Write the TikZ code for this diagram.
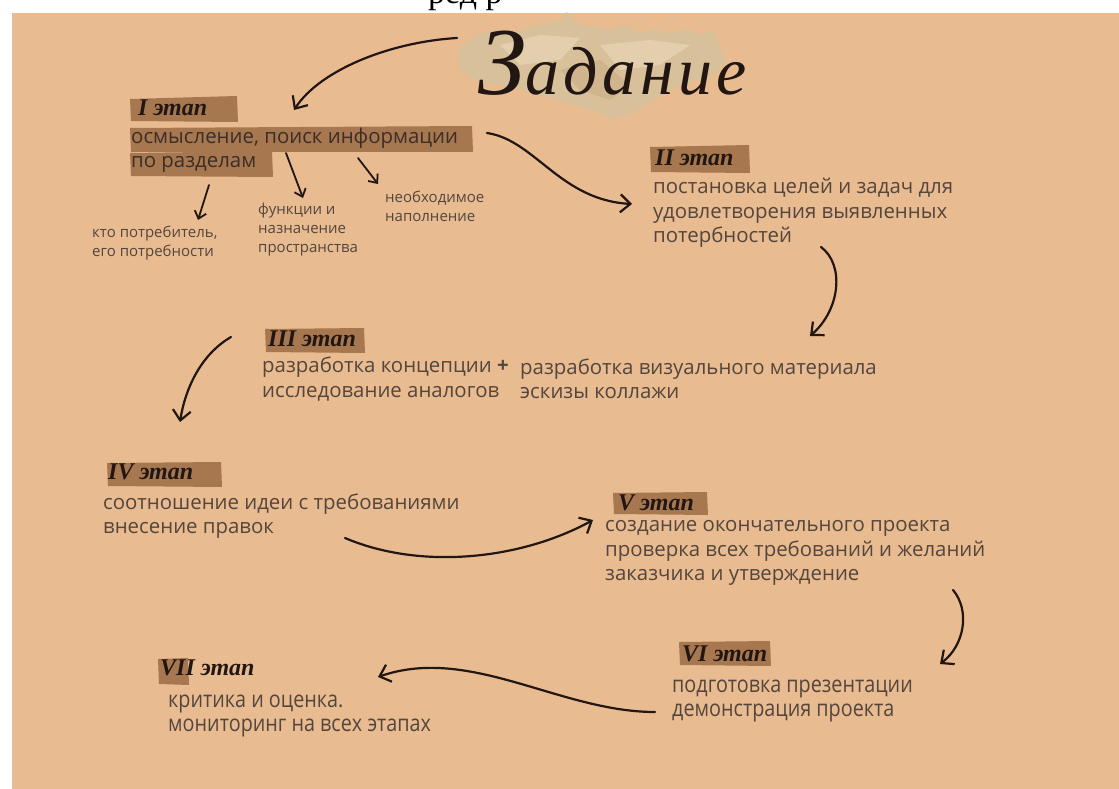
\documentclass[tikz,border=0pt]{standalone}
\usepackage{fontspec}
\setmainfont{Open Sans}
\newfontfamily\condfont[FakeStretch=0.86]{Open Sans}
\newfontfamily\handfont{Liberation Serif}
\usetikzlibrary{arrows.meta}
\definecolor{bg}{HTML}{E8BB91}
\definecolor{patch}{HTML}{A77750}
\definecolor{ink}{HTML}{211611}
\definecolor{txt}{HTML}{54463C}
\definecolor{ontxt}{HTML}{3A2E27}
\definecolor{paper}{HTML}{D8C09B}
\definecolor{paperlight}{HTML}{E3CFAD}
\definecolor{paperdark}{HTML}{C9AD86}
\tikzset{
  body/.style={anchor=west, align=left, inner sep=0pt, text=txt, font=\fontsize{20.4}{24.5}\selectfont},
  small/.style={anchor=west, align=left, inner sep=0pt, text=txt, font=\fontsize{15}{19}\selectfont},
  cond/.style={anchor=west, align=left, inner sep=0pt, text=txt, font=\condfont\fontsize{23}{24}\selectfont},
  stagelabel/.style={anchor=west, inner sep=0pt, text=ink, font=\handfont\bfseries\itshape\fontsize{24}{24}\selectfont},
  hl/.style={fill=patch},
  flow/.style={draw=ink, line width=2.2pt, line cap=round, -{Straight Barb[length=10pt,width=18pt]}},
  tick/.style={draw=ink, line width=1.8pt, line cap=round, -{Straight Barb[length=7pt,width=12pt]}},
}
\begin{document}
\begin{tikzpicture}[x=1pt,y=-1pt]
\useasboundingbox (0,0) rectangle (1119,789);
\fill[white] (0,0) rectangle (1119,789);
\fill[bg] (12,13) rectangle (1119,789);
% fragment of a text line above the picture, cut off as in the source
\begin{scope}
\clip (0,0) rectangle (1119,13);
\node[anchor=base west, inner sep=0pt, font=\handfont\fontsize{34}{34}\selectfont] (top) at (428,4) {ред р};
\end{scope}
% crumpled paper
\fill[paper] (460,48) -- (478,34) -- (495,31) -- (510,36) -- (525,28) -- (545,24) -- (560,21) -- (567,12) -- (575,23) -- (590,27) -- (610,29) -- (625,26) -- (640,32) -- (655,29) -- (670,33) -- (685,29) -- (700,34) -- (714,32) -- (720,45) -- (725,62) -- (716,74) -- (705,78) -- (690,82) -- (670,90) -- (650,102) -- (632,114) -- (612,118) -- (592,110) -- (570,104) -- (550,98) -- (530,92) -- (510,87) -- (490,84) -- (470,78) -- (458,66) -- cycle;
\fill[paperlight] (500,45) -- (540,35) -- (580,38) -- (560,60) -- (520,65) -- cycle;
\fill[paperlight] (600,45) -- (650,40) -- (690,45) -- (660,65) -- (620,70) -- cycle;
\fill[paperdark, opacity=0.6] (560,70) -- (600,60) -- (630,85) -- (610,100) -- (580,90) -- cycle;
% title
\node[anchor=base west, inner sep=0pt, text=ink, font=\handfont\itshape] (title) at (478,95) {{\fontsize{96}{96}\selectfont З}{\fontsize{68}{68}\selectfont\addfontfeatures{LetterSpace=6}адание}};
% highlight patches
\fill[hl] (130,99) -- (237,96) -- (238,122) -- (131,121) -- cycle;
\fill[hl] (130,128) -- (472,126) -- (473,152) -- (131,152) -- cycle;
\fill[hl] (130,153) -- (272,151) -- (273,177) -- (131,176) -- cycle;
\fill[hl] (650,147) -- (749,145) -- (750,173) -- (651,172) -- cycle;
\fill[hl] (265,329) -- (364,328) -- (365,353) -- (266,352) -- cycle;
\fill[hl] (107,463) -- (221,462) -- (222,487) -- (108,486) -- cycle;
\fill[hl] (613,493) -- (707,492) -- (708,515) -- (614,514) -- cycle;
\fill[hl] (679,642) -- (770,641) -- (771,666) -- (680,665) -- cycle;
\fill[hl] (158,659) -- (188,658) -- (189,685) -- (159,684) -- cycle;
% stage I
\node[stagelabel] (l1) at (138,108) {I этап};
\node[body, text=ontxt] (s1) at (131,150) {осмысление, поиск информации\\по разделам};
\node[small] (s1a) at (92,243) {кто потребитель,\\его потребности};
\node[small] (s1b) at (258,230) {функции и\\назначение\\пространства};
\node[small] (s1c) at (385,206) {необходимое\\наполнение};
% stage II
\node[stagelabel] (l2) at (655,158) {II этап};
\node[body] (s2) at (653,213) {постановка целей и задач для\\удовлетворения выявленных\\потербностей};
% stage III
\node[stagelabel] (l3) at (268,339) {III этап};
\node[body] (s3a) at (262,379) {разработка концепции {\bfseries +}\\исследование аналогов};
\node[body] (s3b) at (520,379) {разработка визуального материала\\эскизы коллажи};
% stage IV
\node[stagelabel] (l4) at (108,472) {IV этап};
\node[body] (s4) at (103,516) {соотношение идеи с требованиями\\внесение правок};
% stage V
\node[stagelabel] (l5) at (618,503) {V этап};
\node[body] (s5) at (605,553) {создание окончательного проекта\\проверка всех требований и желаний\\заказчика и утверждение};
% stage VI
\node[stagelabel] (l6) at (682,654) {VI этап};
\node[cond] (s6) at (672,701) {подготовка презентации\\демонстрация проекта};
% stage VII
\node[stagelabel] (l7) at (160,668) {VII этап};
\node[cond] (s7) at (168,716) {критика и оценка.\\мониторинг на всех этапах};
% connector coordinates
\coordinate (a0s) at (457,38);  \coordinate (a0e) at (294,110);
\coordinate (a1s) at (487,133); \coordinate (a1e) at (632,204);
\coordinate (a2s) at (821,247); \coordinate (a2e) at (810,336);
\coordinate (a3s) at (231,337); \coordinate (a3e) at (180,422);
\coordinate (a4s) at (345,538); \coordinate (a4e) at (593,520);
\coordinate (a5s) at (953,590); \coordinate (a5e) at (940,664);
\coordinate (a6s) at (655,712); \coordinate (a6e) at (378,677);
\coordinate (t1s) at (209,185); \coordinate (t1e) at (198,220);
\coordinate (t2s) at (286,153); \coordinate (t2e) at (303,198);
\coordinate (t3s) at (358,158); \coordinate (t3e) at (378,184);
% connectors
\draw[flow] (a0s) .. controls (390,42) and (320,70) .. (a0e);
\draw[flow] (a1s) .. controls (535,140) and (560,200) .. (a1e);
\draw[flow] (a2s) .. controls (845,265) and (840,310) .. (a2e);
\draw[flow] (a3s) .. controls (200,355) and (185,390) .. (a3e);
\draw[flow] (a4s) .. controls (420,570) and (520,560) .. (a4e);
\draw[flow] (a5s) .. controls (970,610) and (965,645) .. (a5e);
\draw[flow] (a6s) .. controls (560,712) and (470,645) .. (a6e);
\draw[tick] (t1s) -- (t1e);
\draw[tick] (t2s) -- (t2e);
\draw[tick] (t3s) -- (t3e);
\end{tikzpicture}
\end{document}
